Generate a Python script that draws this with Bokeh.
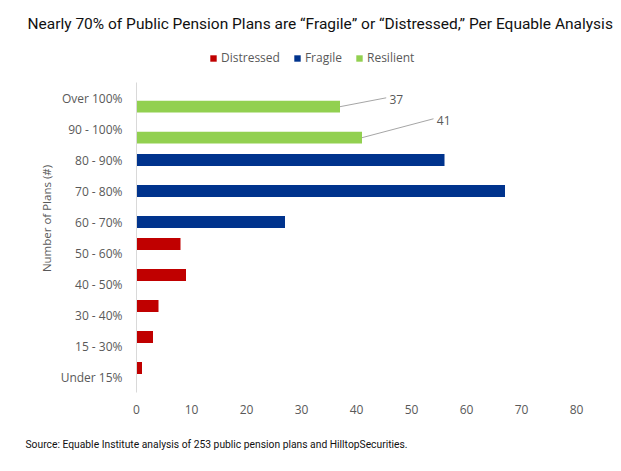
from bokeh.plotting import figure
from bokeh.models import (ColumnDataSource, Range1d, FixedTicker, Legend,
                          LegendItem, Title)
from bokeh.transform import dodge
from bokeh.core.properties import value
from bokeh.embed import file_html
from bokeh.resources import INLINE

# ---- data ----
categories = ["Under 15%", "15 - 30%", "30 - 40%", "40 - 50%", "50 - 60%",
              "60 - 70%", "70 - 80%", "80 - 90%", "90 - 100%", "Over 100%"]
counts = [1, 3, 4, 9, 8, 27, 67, 56, 41, 37]
status = ["Distressed", "Distressed", "Distressed", "Distressed", "Distressed",
          "Fragile", "Fragile", "Fragile", "Resilient", "Resilient"]
series_names = ["Distressed", "Fragile", "Resilient"]
series_colors = ["#C00000", "#00338D", "#92D050"]
x_ticks = [0, 10, 20, 30, 40, 50, 60, 70, 80]
title_text = "Nearly 70% of Public Pension Plans are \u201cFragile\u201d or \u201cDistressed,\u201d Per Equable Analysis"
source_text = "Source: Equable Institute analysis of 253 public pension plans and HilltopSecurities."
y_axis_title = "Number of Plans (#)"

# cluster position of each series inside a category (Excel clustered bars)
series_offsets = {"Distressed": 0.29, "Fragile": 0.0, "Resilient": -0.28}

GREY = "#595959"
FONT = "Open Sans"
NARROW = "Roboto"

W, H = 613, 471
FRAME_L, FRAME_R, FRAME_T, FRAME_B = 136, 576, 44, 392
PX_PER_CAT = (392 - 82) / len(categories)
y_top = len(categories) - 0.5 + (82 - FRAME_T) / PX_PER_CAT

p = figure(width=W, height=H, output_backend="svg", toolbar_location=None,
           x_range=Range1d(0, 80), y_range=Range1d(-0.5, y_top),
           min_border_left=FRAME_L, min_border_right=W - FRAME_R,
           min_border_top=FRAME_T, min_border_bottom=H - FRAME_B)
p.outline_line_color = None
p.grid.visible = False
p.background_fill_color = "white"
p.border_fill_color = "white"

renderers = []
for name, color in zip(series_names, series_colors):
    idx = [i for i, s in enumerate(status) if s == name]
    src = ColumnDataSource(dict(y=idx, v=[counts[i] for i in idx]))
    r = p.hbar(y=dodge("y", series_offsets[name]), right="v", left=0, height=0.38,
               source=src, fill_color=color, line_color=None)
    renderers.append(r)

# axes
xa = p.xaxis[0]
xa.ticker = FixedTicker(ticks=x_ticks)
xa.axis_line_color = None
xa.major_tick_line_color = None
xa.minor_tick_line_color = None
xa.major_tick_out = 0
xa.major_tick_in = 0
xa.minor_tick_out = 0
xa.major_label_text_font = FONT
xa.major_label_text_font_size = "12px"
xa.major_label_text_color = GREY
xa.major_label_standoff = 12

ya = p.yaxis[0]
ya.ticker = FixedTicker(ticks=list(range(len(categories))))
ya.bounds = (-0.5, len(categories) - 0.5)
ya.major_label_overrides = {i: c for i, c in enumerate(categories)}
ya.axis_line_color = "#D9D9D9"
ya.axis_line_width = 1
ya.major_tick_line_color = None
ya.minor_tick_line_color = None
ya.major_tick_out = 0
ya.major_tick_in = 0
ya.minor_tick_out = 0
ya.major_label_text_font = FONT
ya.major_label_text_font_size = "12px"
ya.major_label_text_color = GREY
ya.major_label_standoff = 14
ya.axis_label = y_axis_title
ya.axis_label_text_font = FONT
ya.axis_label_text_font_size = "11.5px"
ya.axis_label_text_font_style = "normal"
ya.axis_label_text_color = GREY
ya.axis_label_standoff = 4

# data labels for the resilient bars, with leader lines
lab_idx = [9, 8]
lab_dx = [8.4, 13.0]
lab_dy = [0.286, 0.61]
lx0 = [counts[i] for i in lab_idx]
ly0 = [i + series_offsets["Resilient"] for i in lab_idx]
lx1 = [x + d for x, d in zip(lx0, lab_dx)]
ly1 = [y + d for y, d in zip(ly0, lab_dy)]
p.segment(x0=lx0, y0=ly0, x1=lx1, y1=ly1, line_color="#A6A6A6", line_width=1)
p.text(x=[x + 0.6 for x in lx1], y=[y - 0.04 for y in ly1],
       text=[str(counts[i]) for i in lab_idx], text_font=value(FONT),
       text_font_size="12px", text_color=GREY, text_align="left",
       text_baseline="middle")

# legend (inside the upper, empty part of the frame)
legend = Legend(items=[LegendItem(label=n, renderers=[r]) for n, r in zip(series_names, renderers)],
                orientation="horizontal", location=(73, 326),
                glyph_width=8, glyph_height=8, label_standoff=4, spacing=13,
                padding=0, margin=0, border_line_color=None,
                background_fill_alpha=0, label_text_font=FONT,
                label_text_font_size="12px", label_text_color=GREY,
                label_height=8)
p.add_layout(legend, "center")

# title and source
p.title = Title(text=title_text, text_font=NARROW, text_font_size="15.5px",
                text_font_style="normal", text_color="#111111", align="left",
                offset=27 - FRAME_L, standoff=24)
p.add_layout(Title(text=source_text, text_font=NARROW, text_font_size="10.3px",
                   text_font_style="normal", text_color="#111111", align="left",
                   offset=25 - FRAME_L, standoff=38), "below")

open("out.html", "w").write(file_html(p, INLINE))
